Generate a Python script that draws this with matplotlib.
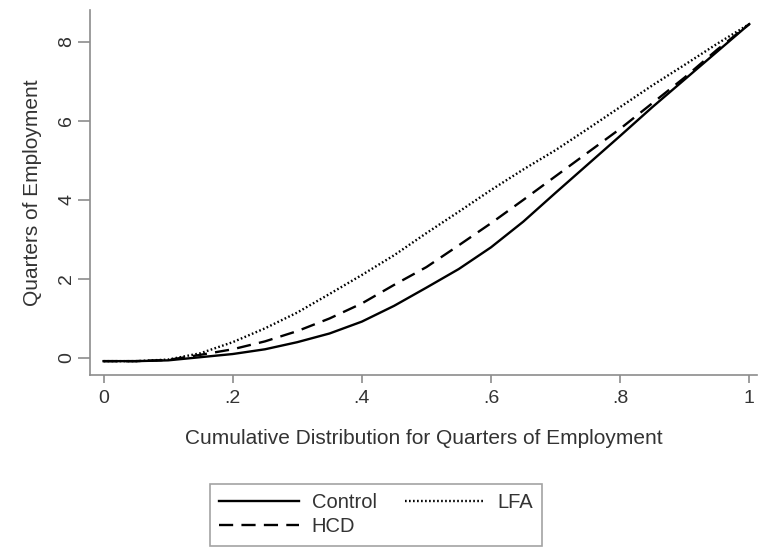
import matplotlib.pyplot as plt

# cumulative distribution (x) and quarters of employment for each group
cdf = [0, .05, .1, .15, .2, .25, .3, .35, .4, .45, .5,
       .55, .6, .65, .7, .75, .8, .85, .9, .95, 1]
control = [-0.08, -0.08, -0.06, 0.02, 0.1, 0.22, 0.4, 0.62, 0.92, 1.32, 1.78,
           2.25, 2.8, 3.45, 4.18, 4.9, 5.62, 6.35, 7.05, 7.75, 8.45]
hcd = [-0.08, -0.08, -0.05, 0.08, 0.22, 0.42, 0.68, 1.0, 1.38, 1.85, 2.3,
       2.85, 3.41, 4.0, 4.6, 5.2, 5.8, 6.45, 7.1, 7.8, 8.45]
lfa = [-0.08, -0.08, -0.04, 0.12, 0.4, 0.75, 1.15, 1.62, 2.1, 2.6, 3.16,
       3.7, 4.25, 4.77, 5.26, 5.8, 6.35, 6.9, 7.42, 7.95, 8.45]

xticks = [0, .2, .4, .6, .8, 1]
xlabels = ["0", ".2", ".4", ".6", ".8", "1"]
yticks = [0, 2, 4, 6, 8]

plt.rcParams['font.family'] = ['Liberation Sans', 'DejaVu Sans']
txt = '#333333'
grey = '#8c8c8c'

fig = plt.figure(figsize=(7.58, 5.49), dpi=100)
ax = fig.add_axes([0.1187, 0.317, 0.88, 0.665])

ax.plot(cdf, control, color='black', lw=1.7, ls='-', label='Control')
ax.plot(cdf, hcd, color='black', lw=1.7, ls=(0, (6, 3.5)), label='HCD')
ax.plot(cdf, lfa, color='black', lw=1.7, ls=(0, (0.7, 1.0)), label='LFA')

ax.set_xlim(-0.021, 1.012)
ax.set_ylim(-0.43, 8.81)
ax.set_xticks(xticks)
ax.set_xticklabels(xlabels)
ax.set_yticks(yticks)
for lbl in ax.get_yticklabels():
    lbl.set_rotation(90)
    lbl.set_va('center')

for s in ['top', 'right']:
    ax.spines[s].set_visible(False)
for s in ['left', 'bottom']:
    ax.spines[s].set_color(grey)
    ax.spines[s].set_linewidth(1.2)
ax.tick_params(colors=grey, labelcolor=txt, labelsize=14, width=1.2)
ax.tick_params(axis='x', length=6, pad=5)
ax.tick_params(axis='y', length=8.5, pad=2)

ax.set_xlabel('Cumulative Distribution for Quarters of Employment', fontsize=15, color=txt, labelpad=16)
ax.set_ylabel('Quarters of Employment', fontsize=15, color=txt, labelpad=12)

leg = ax.legend(ncol=2, loc='center', bbox_to_anchor=(0.496, 0.062),
                bbox_transform=fig.transFigure, fontsize=14.5, handlelength=4,
                fancybox=False, edgecolor=grey, columnspacing=1.4,
                handletextpad=0.6, labelspacing=0.25, borderpad=0.45)
for t in leg.get_texts():
    t.set_color(txt)
leg.get_frame().set_linewidth(1.2)

fig.savefig('out.png', dpi=100)
